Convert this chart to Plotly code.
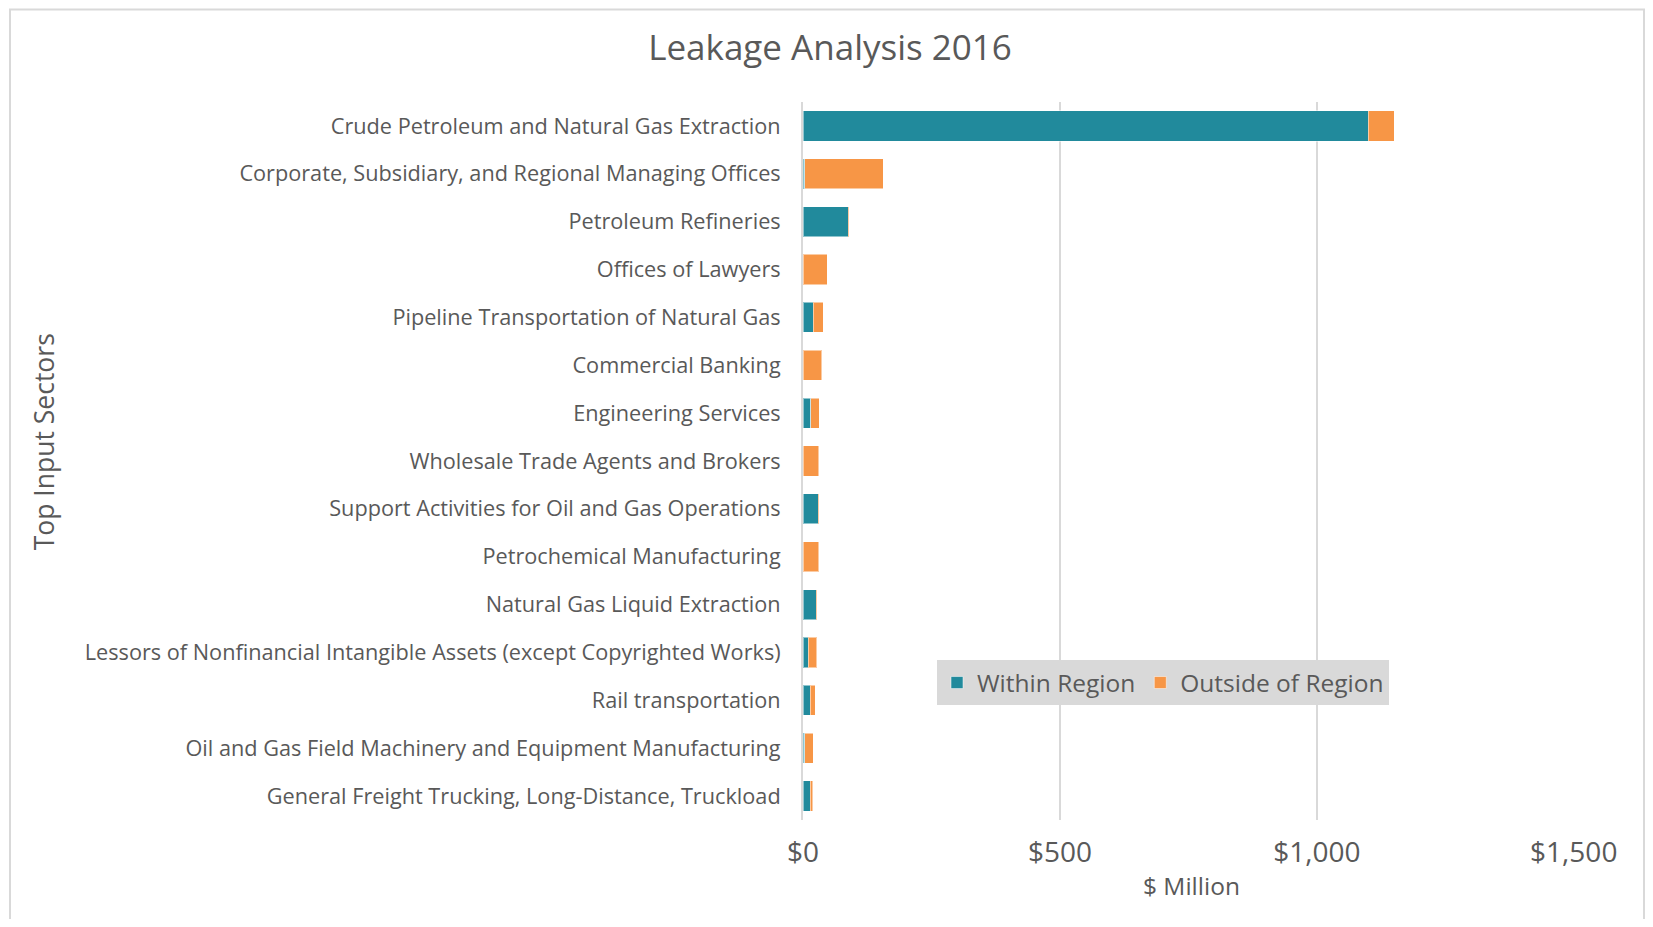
import plotly.graph_objects as go

sectors = [
    "Crude Petroleum and Natural Gas Extraction",
    "Corporate, Subsidiary, and Regional Managing Offices",
    "Petroleum Refineries",
    "Offices of Lawyers",
    "Pipeline Transportation of Natural Gas",
    "Commercial Banking",
    "Engineering Services",
    "Wholesale Trade Agents and Brokers",
    "Support Activities for Oil and Gas Operations",
    "Petrochemical Manufacturing",
    "Natural Gas Liquid Extraction",
    "Lessors of Nonfinancial Intangible Assets (except Copyrighted Works)",
    "Rail transportation",
    "Oil and Gas Field Machinery and Equipment Manufacturing",
    "General Freight Trucking, Long-Distance, Truckload",
]
within_region = [1100, 3, 88, 0, 20, 0, 15, 0, 30, 0, 26, 10, 14, 3, 14]
outside_region = [51, 153, 1, 47, 19, 36, 17, 31, 1, 31, 1, 17, 10, 17, 5]

x_ticks = [0, 500, 1000, 1500]
x_tick_labels = ["$" + format(v, ",") for v in x_ticks]

TEAL = "#218A9C"
ORANGE = "#F79646"
TXT = "#595959"
GRID = "#D9D9D9"
FONT = "Open Sans"

fig = go.Figure()
fig.add_trace(go.Bar(
    y=sectors, x=within_region, orientation="h", name="Within Region",
    marker=dict(color=TEAL, line=dict(color="rgba(255,255,255,0.5)", width=1)),
))
fig.add_trace(go.Bar(
    y=sectors, x=outside_region, orientation="h", name="Outside of Region",
    marker=dict(color=ORANGE, line=dict(color="rgba(255,255,255,0.5)", width=1)),
))

OFF = 8  # page body margin
W, H = 1637, 911
# plot area in page coordinates
PL, PR, PT, PB = 803, 1574, 101.5, 820
L = PL - OFF
R = W - (PR - OFF)
T = PT - OFF
B = H - (PB - OFF)
pw = W - L - R
ph = H - T - B


def px(x):
    return (x - OFF - L) / pw


def py(y):
    return (H - B - (y - OFF)) / ph


fig.update_layout(
    width=W, height=H,
    barmode="stack", bargap=0.37,
    paper_bgcolor="white", plot_bgcolor="white",
    margin=dict(l=L, r=R, t=T, b=B, autoexpand=False),
    font=dict(family=FONT, color=TXT),
    title=dict(text="Leakage Analysis 2016", x=(830 - OFF) / W, xref="container",
               y=1 - (48 - OFF) / H, yref="container", yanchor="middle", xanchor="center",
               font=dict(size=35, color=TXT, family=FONT)),
    xaxis=dict(range=[0, 1500.5], tickmode="array", tickvals=x_ticks, ticktext=x_tick_labels,
               showgrid=True, gridcolor=GRID, gridwidth=1.5, zeroline=False,
               showline=False, tickfont=dict(size=28, color=TXT, family=FONT),
               ticklabelstandoff=13, ticks=""),
    yaxis=dict(categoryorder="array", categoryarray=sectors, autorange="reversed",
               showgrid=False, zeroline=False, showline=True, linecolor=GRID, linewidth=2,
               tickfont=dict(size=21.7, color=TXT, family=FONT),
               ticklabelstandoff=16, ticks=""),
    legend=dict(orientation="h", x=px(937), y=py(660), xanchor="left", yanchor="top",
                bgcolor=GRID, font=dict(size=24.5, color=TXT, family=FONT),
                itemwidth=30, traceorder="normal", itemclick=False, tracegroupgap=0),
    showlegend=True,
    annotations=[
        dict(text="Top Input Sectors", xref="paper", yref="paper", x=px(44), y=py(442),
             textangle=-90, showarrow=False, xanchor="center", yanchor="middle",
             font=dict(size=26.5, color=TXT, family=FONT)),
        dict(text="$ Million", xref="paper", yref="paper", x=px(1191), y=py(886),
             showarrow=False, xanchor="center", yanchor="middle",
             font=dict(size=24.5, color=TXT, family=FONT)),
    ],
    shapes=[
        dict(type="rect", xref="paper", yref="paper", x0=px(10), x1=px(OFF + W - 1),
             y0=py(OFF + H + 20), y1=py(OFF + 1), line=dict(color=GRID, width=2), layer="below"),
    ],
)

fig.write_html("out.html")
